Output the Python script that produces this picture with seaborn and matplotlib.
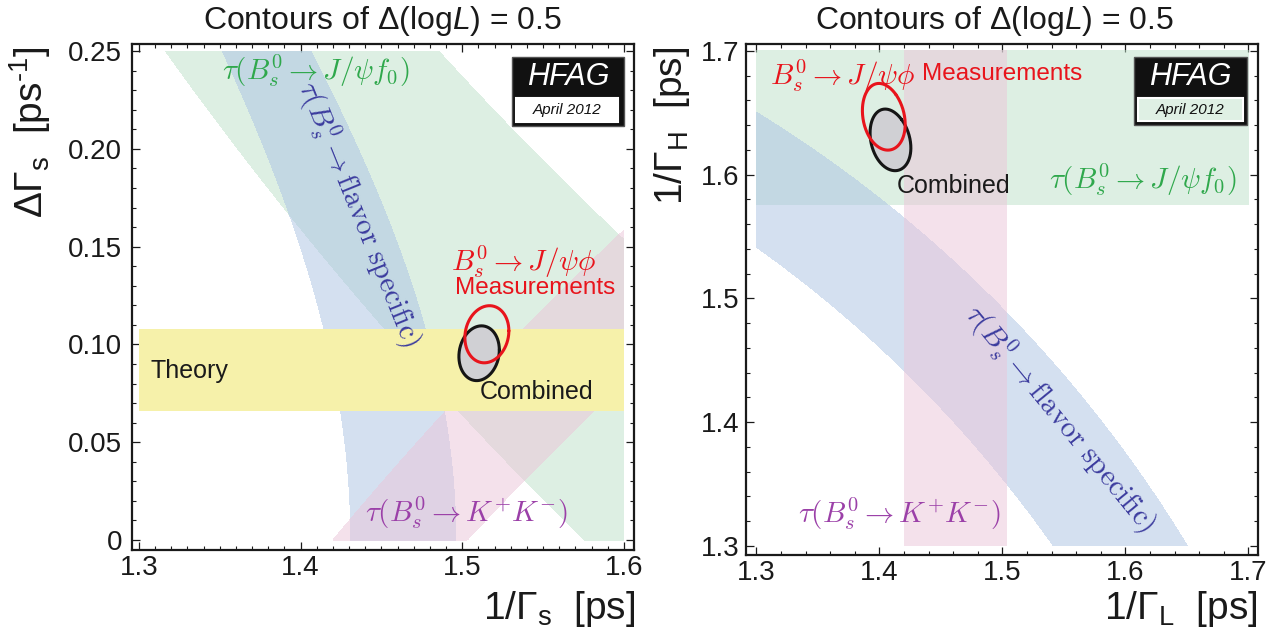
import numpy as np
import matplotlib
matplotlib.use("Agg")
import matplotlib.pyplot as plt
import seaborn as sns
from matplotlib.patches import Rectangle
from matplotlib.ticker import MultipleLocator

# ---------------- data ----------------
tau_fs = [1.431, 1.496]          # flavour-specific lifetime band [ps]
tau_kk = [1.420, 1.503]          # 1/Gamma_L from Bs -> K+K-
tau_jpsif0 = [1.5756, 1.824]     # 1/Gamma_H from Bs -> J/psi f0
theory_dgamma = [0.066, 0.108]   # theory Delta Gamma_s band
left_band_x = [1.3, 1.6]
left_band_y = [0.0, 0.25]
right_band = [1.3, 1.7]

meas_center = [1.5152, 0.1052]   # (1/Gamma_s, Delta Gamma_s)
meas_halfwidth = [0.0136, 0.0146]
meas_rho = 0.12
comb_center = [1.5104, 0.0955]
comb_halfwidth = [0.0125, 0.0140]
comb_rho = 0.12

left_xticks = [1.3, 1.4, 1.5, 1.6]
left_xticklabels = ["1.3", "1.4", "1.5", "1.6"]
left_yticks = [0.0, 0.05, 0.10, 0.15, 0.20, 0.25]
left_yticklabels = ["0", "0.05", "0.10", "0.15", "0.20", "0.25"]
right_ticks = [1.3, 1.4, 1.5, 1.6, 1.7]
right_ticklabels = ["1.3", "1.4", "1.5", "1.6", "1.7"]

# ---------------- style ----------------
sns.set_theme(style="ticks")
plt.rcParams["font.family"] = ["Liberation Sans", "DejaVu Sans"]
plt.rcParams["mathtext.fontset"] = "custom"
plt.rcParams["mathtext.rm"] = "Liberation Sans"
plt.rcParams["mathtext.it"] = "Liberation Sans:italic"
plt.rcParams["mathtext.bf"] = "Liberation Sans:bold"

GREEN = "#bde1c9"
BLUE = "#abc3e3"
PINK = "#ebc5d9"
YELLOW = "#f6f1aa"
C_GREEN = "#2fa84c"
C_BLUE = "#3b3b9e"
C_PURPLE = "#9b40a8"
C_RED = "#e8141c"
INK = "#1a1a1a"

W, H = 1283, 633
fig = plt.figure(figsize=(W / 100, H / 100), dpi=100)


def px_axes(l, t, r, b):
    return fig.add_axes([l / W, 1 - b / H, (r - l) / W, (b - t) / H])


axL = px_axes(132, 44, 634, 550)
axR = px_axes(746, 43.5, 1258, 555)


def style_axes(ax, minor_x, minor_y, xpad, ypad):
    for s in ax.spines.values():
        s.set_linewidth(1.6)
        s.set_color(INK)
    ax.xaxis.set_minor_locator(MultipleLocator(minor_x))
    ax.yaxis.set_minor_locator(MultipleLocator(minor_y))
    ax.tick_params(which="both", direction="in", top=True, right=True,
                   colors=INK, labelsize=20)
    ax.tick_params(which="major", length=6, width=0.9)
    ax.tick_params(axis="x", which="major", pad=xpad)
    ax.tick_params(axis="y", which="major", pad=ypad)
    ax.tick_params(which="minor", length=3, width=0.8)
    ax.set_facecolor("white")
    ax.grid(False)


def ellipse(center, half, rho, n=400):
    t = np.linspace(0, 2 * np.pi, n)
    x = center[0] + half[0] * np.cos(t)
    y = center[1] + half[1] * (rho * np.cos(t) + np.sqrt(1 - rho ** 2) * np.sin(t))
    return x, y


def to_right(x, y):
    gs = 1.0 / x
    return 1.0 / (gs + y / 2.0), 1.0 / (gs - y / 2.0)


CM = dict(math_fontfamily="cm")
FS_CM = 21

# ---------------- left panel ----------------
ax = axL
X, Y = np.meshgrid(np.linspace(left_band_x[0], left_band_x[1], 700),
                   np.linspace(left_band_y[0], left_band_y[1], 700))
GS = 1.0 / X
tauH = 1.0 / (GS - Y / 2.0)
tauL = 1.0 / (GS + Y / 2.0)
r2 = (X * Y / 2.0) ** 2
tfs = X * (1 + r2) / (1 - r2)
ax.contourf(X, Y, tauH, levels=tau_jpsif0, colors=[GREEN], alpha=0.5, zorder=1)
ax.contourf(X, Y, tfs, levels=tau_fs, colors=[BLUE], alpha=0.5, zorder=1.1)
ax.contourf(X, Y, tauL, levels=tau_kk, colors=[PINK], alpha=0.5, zorder=1.2)
ax.fill_between(left_band_x, theory_dgamma[0], theory_dgamma[1],
                color=YELLOW, lw=0, zorder=2)

cx, cy = ellipse(comb_center, comb_halfwidth, comb_rho)
ax.fill(cx, cy, color="#d0d0d4", lw=0, zorder=3)
sns.lineplot(x=cx, y=cy, sort=False, estimator=None, color="#151515",
             lw=2.2, ax=ax, zorder=4)
mx, my = ellipse(meas_center, meas_halfwidth, meas_rho)
sns.lineplot(x=mx, y=my, sort=False, estimator=None, color=C_RED,
             lw=2.2, ax=ax, zorder=5)

ax.set_xlim(1.2957, 1.6062)
ax.set_ylim(-0.0051, 0.2536)
ax.set_xticks(left_xticks)
ax.set_xticklabels(left_xticklabels)
ax.set_yticks(left_yticks)
ax.set_yticklabels(left_yticklabels)
style_axes(ax, 0.01, 0.01, xpad=3.5, ypad=7)
ax.set_xlabel("")
ax.set_ylabel("")

ax.text(1.3513, 0.2398, r"$\tau(B_s^0 \rightarrow J/\psi f_0)$", color=C_GREEN,
        fontsize=FS_CM, ha="left", va="center", zorder=6, **CM)
ax.text(1.4365, 0.1665, r"$\tau(B_s^0 \rightarrow {\rm flavor\ specific})$",
        color=C_BLUE, fontsize=FS_CM, rotation=-68, rotation_mode="anchor",
        ha="center", va="center", zorder=6, **CM)
ax.text(1.538, 0.1425, r"$B_s^0 \rightarrow J/\psi\phi$", color=C_RED,
        fontsize=FS_CM, ha="center", va="center", zorder=6, **CM)
ax.text(1.545, 0.1288, "Measurements", color=C_RED, fontsize=17.5,
        ha="center", va="center", zorder=6)
ax.text(1.3074, 0.0864, "Theory", color=INK, fontsize=18,
        ha="left", va="center", zorder=6)
ax.text(1.5106, 0.0757, "Combined", color=INK, fontsize=18,
        ha="left", va="center", zorder=6)
ax.text(1.4398, 0.0138, r"$\tau(B_s^0 \rightarrow K^{+}K^{-})$", color=C_PURPLE,
        fontsize=FS_CM, ha="left", va="center", zorder=6, **CM)

# ---------------- right panel ----------------
ax = axR
XL, YH = np.meshgrid(np.linspace(right_band[0], right_band[1], 700),
                     np.linspace(right_band[0], right_band[1], 700))
GL = 1.0 / XL
GH = 1.0 / YH
GSR = (GL + GH) / 2.0
rr = ((GL - GH) / (2 * GSR)) ** 2
tfsR = (1.0 / GSR) * (1 + rr) / (1 - rr)
ax.contourf(XL, YH, YH, levels=tau_jpsif0, colors=[GREEN], alpha=0.5, zorder=1)
ax.contourf(XL, YH, tfsR, levels=tau_fs, colors=[BLUE], alpha=0.5, zorder=1.1)
ax.contourf(XL, YH, XL, levels=tau_kk, colors=[PINK], alpha=0.5, zorder=1.2)

rcx, rcy = to_right(cx, cy)
ax.fill(rcx, rcy, color="#d0d0d4", lw=0, zorder=3)
sns.lineplot(x=rcx, y=rcy, sort=False, estimator=None, color="#151515",
             lw=2.2, ax=ax, zorder=4)
rmx, rmy = to_right(mx, my)
sns.lineplot(x=rmx, y=rmy, sort=False, estimator=None, color=C_RED,
             lw=2.2, ax=ax, zorder=5)

ax.set_xlim(1.2915, 1.7078)
ax.set_ylim(1.2927, 1.706)
ax.set_xticks(right_ticks)
ax.set_xticklabels(right_ticklabels)
ax.set_yticks(right_ticks)
ax.set_yticklabels(right_ticklabels)
style_axes(ax, 0.02, 0.02, xpad=3.5, ypad=4.5)
ax.set_xlabel("")
ax.set_ylabel("")

ax.text(1.311, 1.680, r"$B_s^0 \rightarrow J/\psi\phi$", color=C_RED,
        fontsize=FS_CM, ha="left", va="center", zorder=6, **CM)
ax.text(1.435, 1.681, "Measurements", color=C_RED,
        fontsize=17.5, ha="left", va="center", zorder=6)
ax.text(1.4142, 1.591, "Combined", color=INK, fontsize=18,
        ha="left", va="center", zorder=6)
ax.text(1.538, 1.596, r"$\tau(B_s^0 \rightarrow J/\psi f_0)$", color=C_GREEN,
        fontsize=FS_CM, ha="left", va="center", zorder=6, **CM)
ax.text(1.5467, 1.4034, r"$\tau(B_s^0 \rightarrow {\rm flavor\ specific})$",
        color=C_BLUE, fontsize=FS_CM, rotation=-50.7, rotation_mode="anchor",
        ha="center", va="center", zorder=6, **CM)
ax.text(1.3336, 1.326, r"$\tau(B_s^0 \rightarrow K^{+}K^{-})$", color=C_PURPLE,
        fontsize=FS_CM, ha="left", va="center", zorder=6, **CM)

# ---------------- titles and axis labels ----------------
title = r"Contours of $\Delta$(log$L$) = 0.5"
fig.text(383 / W, 1 - 20.5 / H, title, fontsize=23, ha="center", va="center",
         color=INK)
fig.text(995 / W, 1 - 20.5 / H, title, fontsize=23, ha="center", va="center",
         color=INK)
fig.text(30 / W, 1 - 47 / H, r"$\Delta\Gamma_{\rm s}$  [ps$^{\text{-1}}$]",
         fontsize=28, rotation=90, ha="center", va="top", color=INK)
fig.text(672 / W, 1 - 47 / H, r"1/$\Gamma_{\rm H}$  [ps]",
         fontsize=28, rotation=90, ha="center", va="top", color=INK)
fig.text(635 / W, 1 - 609 / H, r"1/$\Gamma_{\rm s}$  [ps]",
         fontsize=28, ha="right", va="center", color=INK)
fig.text(1258 / W, 1 - 609 / H, r"1/$\Gamma_{\rm L}$  [ps]",
         fontsize=28, ha="right", va="center", color=INK)


# ---------------- HFAG logos ----------------
def logo(l, t, r, b, il, it, ir, ib, inner_bg):
    fig.add_artist(Rectangle((l / W, 1 - b / H), (r - l) / W, (b - t) / H,
                             transform=fig.transFigure, facecolor="#111111",
                             edgecolor="#555555", lw=1.0, zorder=10))
    fig.add_artist(Rectangle((il / W, 1 - ib / H), (ir - il) / W, (ib - it) / H,
                             transform=fig.transFigure, facecolor=inner_bg,
                             edgecolor="white", lw=1.5, zorder=11))
    fig.text((l + r) / 2 / W, 1 - ((t + it) / 2) / H, "HFAG", color="white",
             fontsize=22, style="italic", ha="center", va="center", zorder=12)
    fig.text((il + ir) / 2 / W, 1 - ((it + ib) / 2 + 0.5) / H, "April 2012",
             color="#111111", fontsize=11, style="italic", ha="center",
             va="center", zorder=12)


logo(512, 56.7, 624, 126, 516, 97.7, 618, 121.7, "white")
logo(1134, 56.7, 1246.7, 125, 1138, 98, 1243, 120.7, "#dff0e4")

fig.savefig("out.png", dpi=100, facecolor="white")
